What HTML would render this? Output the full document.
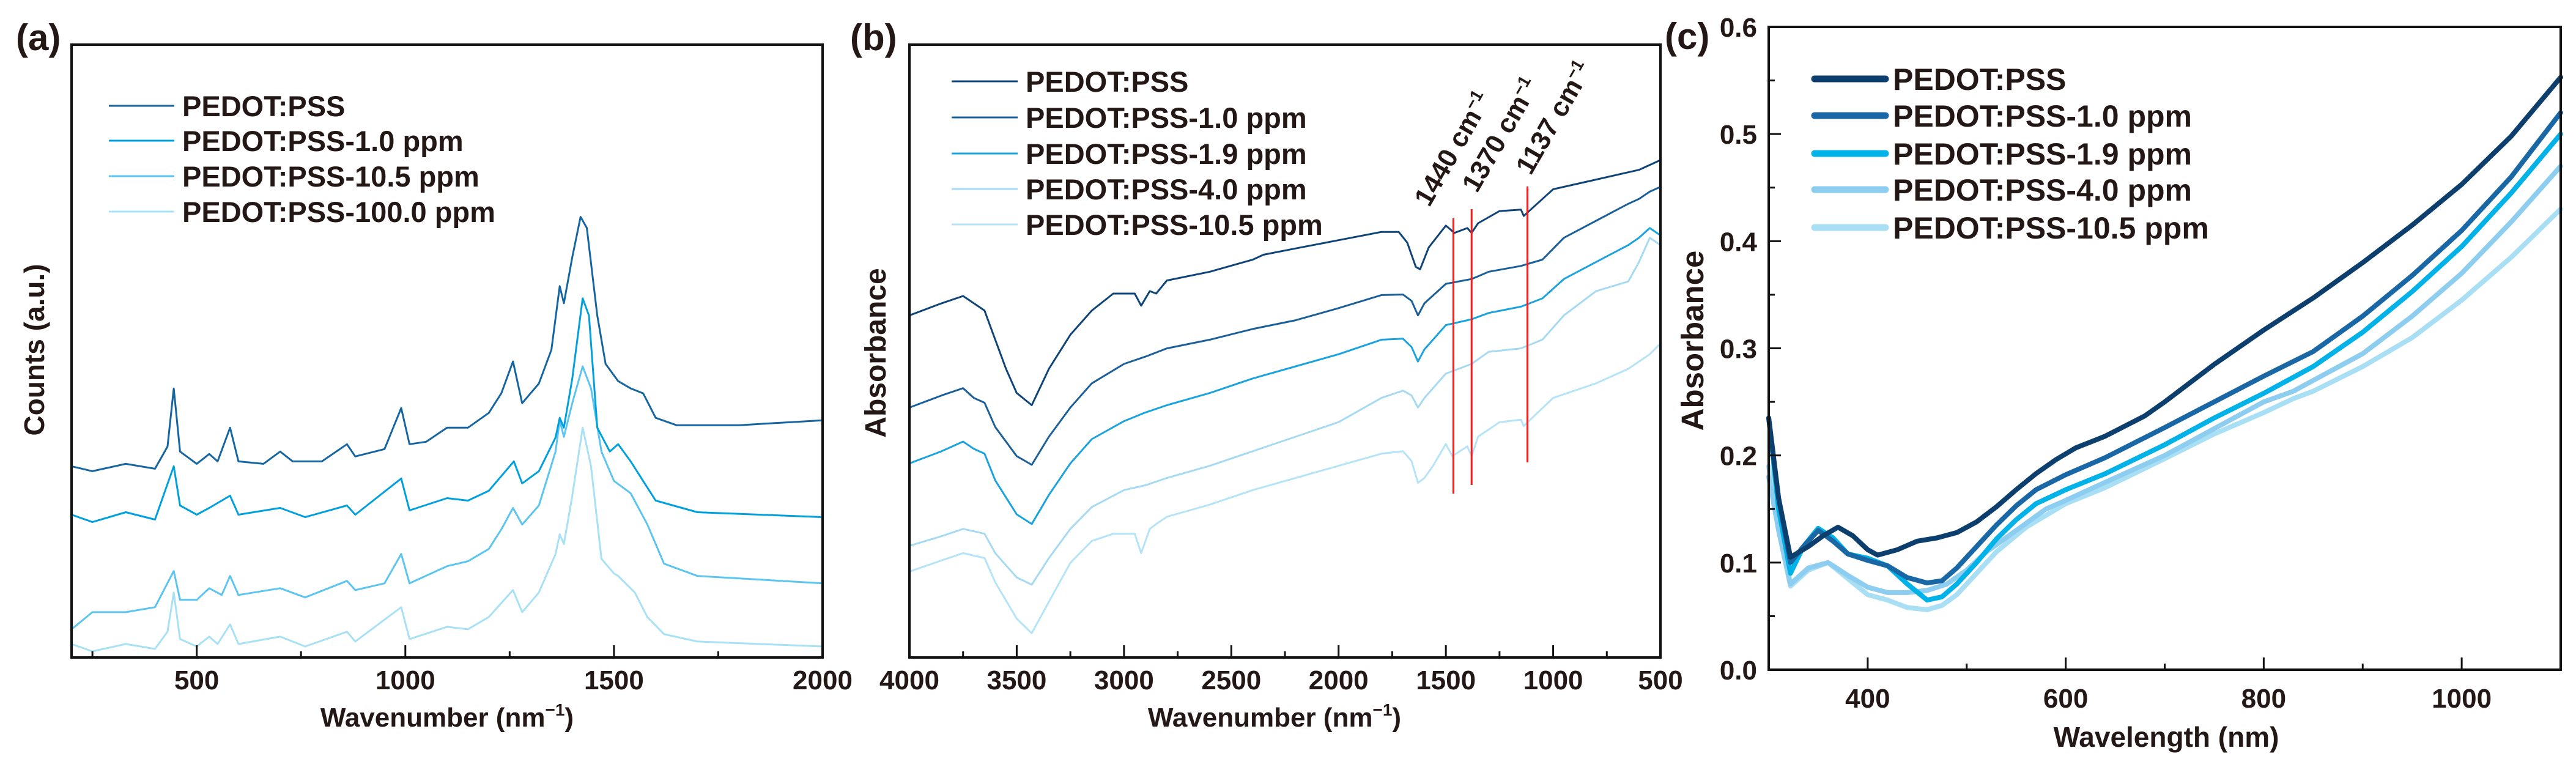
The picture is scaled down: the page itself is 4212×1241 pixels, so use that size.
<!DOCTYPE html>
<html><head><meta charset="utf-8">
<style>
html,body{margin:0;padding:0;background:#fff;}
svg{display:block;}
text{font-family:"Liberation Sans",Arial,sans-serif;font-weight:bold;fill:#231815;}
</style></head>
<body>
<svg id="fig" width="4212" height="1241" viewBox="0 0 4212 1241" xmlns="http://www.w3.org/2000/svg"></svg>
<script>
// ===== Panel (a) Raman data =====
const aX = [200,250,330,400,430,445,460,500,530,550,580,600,660,700,730,800,860,880,950,990,1010,1050,1100,1150,1200,1230,1258,1280,1320,1350,1370,1380,1400,1420,1435,1460,1480,1510,1540,1570,1600,1650,1800,2000];
const aS1 = [31.2,30.4,31.6,30.8,34.4,43.9,33.6,31.6,33.2,32.0,37.5,32.0,31.6,33.6,32.0,32.0,34.8,32.8,34.0,40.7,34.8,35.2,37.5,37.5,39.9,43.1,48.3,41.5,44.7,50.2,60.6,57.8,65.3,71.9,70.1,55.8,47.9,45.1,43.9,43.1,39.1,37.9,37.9,38.7];
const aX2 = [200,250,330,400,445,460,500,530,580,600,700,760,860,880,990,1010,1100,1150,1200,1260,1280,1320,1360,1370,1380,1400,1425,1440,1460,1490,1510,1540,1570,1600,1700,2000];
const aS2 = [23.3,22.1,23.7,22.5,31.2,24.8,23.3,24.4,26.4,23.3,24.4,22.9,24.8,23.3,29.2,24.0,26.0,25.6,27.2,32.0,28.4,30.4,35.9,39.1,37.5,45.5,58.6,55.8,37.5,33.6,34.8,32.0,28.8,25.6,23.7,22.9];
const aX3 = [200,250,330,400,445,460,500,530,560,580,600,700,760,860,880,950,990,1010,1100,1150,1200,1230,1258,1280,1320,1360,1370,1380,1400,1425,1445,1470,1500,1540,1580,1620,1700,2000];
const aS3 = [4.6,7.4,7.4,8.2,14.1,9.4,9.4,11.3,10.2,13.3,10.2,11.3,9.8,12.5,11.0,12.1,16.9,12.1,14.9,15.7,17.7,20.9,24.4,21.7,24.8,33.6,38.7,36.0,41.5,47.5,43.9,33.6,28.8,26.8,21.7,15.3,13.3,12.1];
const aX4 = [200,250,330,400,430,445,460,500,530,550,580,600,700,760,860,880,990,1010,1100,1150,1200,1258,1280,1320,1360,1370,1380,1400,1425,1445,1470,1500,1510,1550,1580,1620,1700,2000];
const aS4 = [2.2,1.0,2.2,1.4,4.2,10.6,3.0,1.8,3.4,2.2,5.4,2.2,3.4,1.8,4.2,2.6,8.2,3.0,5.0,4.6,6.6,11.0,7.4,10.6,16.9,20.1,18.5,26.4,37.5,31.2,16.1,13.7,13.3,10.6,6.6,3.8,2.6,1.8];
const aTicks = [500,1000,1500,2000];
const aLegend = ["PEDOT:PSS","PEDOT:PSS-1.0 ppm","PEDOT:PSS-10.5 ppm","PEDOT:PSS-100.0 ppm"];

// ===== Panel (b) FTIR data (arbitrary absorbance units) =====
const bX1 = [4000,3850,3750,3700,3650,3600,3550,3500,3430,3350,3250,3150,3050,2950,2920,2880,2850,2800,2600,2400,2350,2200,2000,1800,1720,1680,1640,1620,1580,1500,1460,1400,1380,1350,1250,1150,1137,1100,1000,800,600,500];
const bS1 = [705,730,745,730,715,655,595,545,520,595,665,715,750,750,725,755,750,777,795,820,830,843,860,877,877,855,805,800,845,890,875,885,875,895,920,923,910,925,965,985,1005,1025];
const bX = [4000,3850,3750,3700,3650,3600,3500,3430,3350,3250,3150,3000,2900,2800,2600,2400,2200,2000,1800,1700,1660,1630,1600,1500,1380,1300,1150,1050,950,800,650,600,550,500];
const bS2 = [515,540,555,535,525,475,415,397,455,515,565,605,620,637,655,677,695,720,747,748,735,705,730,770,780,795,807,820,865,900,935,945,960,970];
const bS3 = [400,425,445,430,420,365,295,275,335,400,450,487,505,520,545,575,600,625,655,657,640,610,635,685,697,710,723,740,780,815,850,865,885,870];
const bS4 = [230,250,265,260,255,215,165,150,205,265,310,345,355,370,395,425,455,485,535,550,540,515,535,585,605,630,637,655,705,755,775,815,865,850];
const bX5 = [4000,3850,3750,3700,3650,3600,3500,3430,3350,3250,3150,3050,2950,2920,2880,2850,2800,2600,2400,2200,2000,1800,1700,1660,1630,1600,1560,1500,1470,1400,1380,1350,1250,1150,1137,1100,1000,800,650,550,500];
const bS5 = [177,200,215,210,205,155,80,50,115,195,240,255,255,215,265,275,290,315,345,370,395,420,425,405,360,370,395,440,415,435,415,455,485,490,477,493,535,565,595,625,647];
const bTicks = [4000,3500,3000,2500,2000,1500,1000,500];
const bMarks = [1465,1380,1120];
const bMarkLabels = ["1440 cm","1370 cm","1137 cm"];
const bLegend = ["PEDOT:PSS","PEDOT:PSS-1.0 ppm","PEDOT:PSS-1.9 ppm","PEDOT:PSS-4.0 ppm","PEDOT:PSS-10.5 ppm"];

// ===== Panel (c) UV-vis data =====
const cX1 = [300,310,322,340,355,370,385,400,410,430,450,470,490,510,530,550,570,590,610,640,680,700,750,800,850,900,950,1000,1050,1100];
const cS1 = [0.235,0.16,0.105,0.115,0.125,0.133,0.125,0.112,0.107,0.112,0.12,0.123,0.128,0.138,0.152,0.168,0.183,0.196,0.207,0.218,0.237,0.25,0.285,0.317,0.347,0.38,0.415,0.453,0.498,0.553];
const cX = [300,310,322,335,350,365,380,400,420,440,460,475,490,510,530,550,570,600,640,700,750,800,850,900,950,1000,1050,1100];
const cS2 = [0.235,0.16,0.1,0.115,0.13,0.12,0.108,0.102,0.097,0.086,0.081,0.083,0.095,0.115,0.135,0.153,0.168,0.182,0.198,0.226,0.25,0.274,0.297,0.33,0.368,0.41,0.46,0.52];
const cS3 = [0.235,0.15,0.09,0.115,0.132,0.123,0.108,0.104,0.097,0.08,0.065,0.068,0.08,0.1,0.122,0.14,0.155,0.168,0.183,0.21,0.235,0.258,0.283,0.315,0.353,0.395,0.445,0.5];
const cX4 = [300,310,322,340,360,380,400,420,440,460,480,500,520,550,580,600,640,700,750,800,830,850,900,950,1000,1050,1100];
const cS4 = [0.18,0.13,0.08,0.095,0.1,0.088,0.077,0.072,0.072,0.074,0.08,0.093,0.11,0.13,0.15,0.158,0.175,0.2,0.225,0.25,0.26,0.27,0.295,0.33,0.37,0.418,0.47];
const cX5 = [300,310,322,340,360,380,400,420,440,460,475,490,510,530,560,600,640,700,750,800,830,850,900,950,1000,1050,1100];
const cS5 = [0.19,0.13,0.078,0.093,0.1,0.085,0.07,0.065,0.058,0.056,0.06,0.07,0.09,0.11,0.133,0.155,0.17,0.197,0.22,0.24,0.253,0.26,0.283,0.31,0.345,0.385,0.43];
const cXTicks = [400,600,800,1000];
const cYTicks = [0.0,0.1,0.2,0.3,0.4,0.5,0.6];
const cLegend = ["PEDOT:PSS","PEDOT:PSS-1.0 ppm","PEDOT:PSS-1.9 ppm","PEDOT:PSS-4.0 ppm","PEDOT:PSS-10.5 ppm"];

const NS = "http://www.w3.org/2000/svg";
const svg = document.getElementById('fig');
function mk(tag, attrs, parent){
  const e = document.createElementNS(NS, tag);
  for (const k in attrs) e.setAttribute(k, attrs[k]);
  (parent||svg).appendChild(e);
  return e;
}
function scale(d0,d1,r0,r1){ return v => r0 + (v-d0)/(d1-d0)*(r1-r0); }
function lineD(xs, ys, sx, sy){ return xs.map((x,i)=>(i?'L':'M')+sx(x).toFixed(1)+' '+sy(ys[i]).toFixed(1)).join(' '); }
function txt(s, x, y, size, anchor, parent){
  const t = mk('text', {x:x, y:y, 'font-size':size, 'text-anchor':anchor||'start'}, parent);
  t.textContent = s; return t;
}

// ---------- Panel (a) ----------
(function(){
  const L=117,R=1345,T=73,B=1075;
  const sx = scale(200,2000,L,R), sy = scale(0,100,B,T);
  const g = mk('g',{});
  
  
  const cols = ['#1565a0','#00a0dc','#5bc5f0','#a8e0f5'];
  const xs=[aX,aX2,aX3,aX4], ys=[aS1,aS2,aS3,aS4];
  for (let i=3;i>=0;i--){
    const p = mk('path',{d:lineD(xs[i],ys[i],sx,sy),fill:'none',stroke:cols[i],'stroke-width':3,'stroke-linejoin':'round'},g);
    
    
  }
  mk('rect',{x:L,y:T,width:R-L,height:B-T,fill:'none',stroke:'#111','stroke-width':4},g);
  for (let v=250; v<2000; v+=250){
    const major = v%500===0;
    mk('line',{x1:sx(v),x2:sx(v),y1:B,y2:B-(major?20:10),stroke:'#111','stroke-width':3},g);
  }
  aTicks.forEach(v=>{ const t=txt(String(v),sx(v),1127,44,'middle',g);
      });
  const xt = mk('text',{x:731,y:1188,'font-size':44,'text-anchor':'middle'},g);
  xt.innerHTML = 'Wavenumber (nm<tspan dy="-18" font-size="28">−1</tspan><tspan dy="18">)</tspan>';
   
  const yt = txt('Counts (a.u.)',0,0,46,'middle',g);
  yt.setAttribute('transform','translate(72,572) rotate(-90)');
   
  const pl = txt('(a)',26,82,60,'start',g);
   
  const legY=[173,230,288,346];
  aLegend.forEach((s,i)=>{
    const lg = mk('g',{},g);
     
    mk('line',{x1:178,x2:285,y1:legY[i],y2:legY[i],stroke:cols[i],'stroke-width':3},lg);
    txt(s,298,legY[i]+17,47,'start',lg);
  });
})();

// ---------- Panel (b) ----------
(function(){
  const L=1487,R=2715,T=73,B=1075;
  const sx = scale(4000,500,L,R), sy = scale(0,1263,B,T);
  const g = mk('g',{});
  
  
  const cols = ['#0e4477','#1b5f99','#1aa3dd','#a5daf2','#b5e3f7'];
  const xs=[bX1,bX,bX,bX,bX5], ys=[bS1,bS2,bS3,bS4,bS5];
  for (let i=4;i>=0;i--){
    const p = mk('path',{d:lineD(xs[i],ys[i],sx,sy),fill:'none',stroke:cols[i],'stroke-width':3,'stroke-linejoin':'round'},g);
    
    
  }
  const tops=[357,342,305], bots=[807,793,756];
  bMarks.forEach((v,i)=>{
    const l = mk('line',{x1:sx(v),x2:sx(v),y1:tops[i],y2:bots[i],stroke:'#ff1a1a','stroke-width':3},g);
     
  });
  const labPos=[[2337,340],[2415,317],[2503,288]];
  bMarkLabels.forEach((s,i)=>{
    const t = mk('text',{x:0,y:0,'font-size':44,transform:'translate('+labPos[i][0]+','+labPos[i][1]+') rotate(-60)'},g);
    t.innerHTML = s+'<tspan dy="-16" font-size="28">−1</tspan>';
     
  });
  mk('rect',{x:L,y:T,width:R-L,height:B-T,fill:'none',stroke:'#111','stroke-width':4},g);
  for (let v=3750; v>500; v-=250){
    const major = v%500===0;
    mk('line',{x1:sx(v),x2:sx(v),y1:B,y2:B-(major?20:10),stroke:'#111','stroke-width':3},g);
  }
  bTicks.forEach(v=>{ const t=txt(String(v),sx(v),1127,44,'middle',g);
      });
  const xt = mk('text',{x:2084,y:1188,'font-size':44,'text-anchor':'middle'},g);
  xt.innerHTML = 'Wavenumber (nm<tspan dy="-18" font-size="28">−1</tspan><tspan dy="18">)</tspan>';
   
  const yt = txt('Absorbance',0,0,48,'middle',g);
  yt.setAttribute('transform','translate(1448,577) rotate(-90)');
   
  const pl = txt('(b)',1390,82,60,'start',g);
   
  const legY=[133,192,251,309,367];
  bLegend.forEach((s,i)=>{
    const lg = mk('g',{},g);
     
    mk('line',{x1:1556,x2:1664,y1:legY[i],y2:legY[i],stroke:cols[i],'stroke-width':3},lg);
    txt(s,1677,legY[i]+17,47,'start',lg);
  });
})();

// ---------- Panel (c) ----------
(function(){
  const L=2892,R=4187,T=44,B=1095;
  const sx = scale(300,1100,L,R), sy = scale(0,0.6,B,T);
  const g = mk('g',{});
  
  
  const cols = ['#0c3f6d','#1a67a5','#00b2e8','#8dcdef','#a9dff5'];
  const xs=[cX1,cX,cX,cX4,cX5], ys=[cS1,cS2,cS3,cS4,cS5];
  for (let i=4;i>=0;i--){
    const p = mk('path',{d:lineD(xs[i],ys[i],sx,sy),fill:'none',stroke:cols[i],'stroke-width':8,'stroke-linejoin':'round','stroke-linecap':'round'},g);
    
    
  }
  mk('rect',{x:L,y:T,width:R-L,height:B-T,fill:'none',stroke:'#111','stroke-width':4},g);
  for (let v=400; v<1100; v+=100){
    const major = v%200===0;
    mk('line',{x1:sx(v),x2:sx(v),y1:B,y2:B-(major?20:10),stroke:'#111','stroke-width':3},g);
  }
  for (let k=1;k<12;k++){
    const v=k*0.05, major=k%2===0;
    mk('line',{x1:L,x2:L+(major?20:10),y1:sy(v),y2:sy(v),stroke:'#111','stroke-width':3},g);
  }
  cXTicks.forEach(v=>{ const t=txt(String(v),sx(v),1157,44,'middle',g);
      });
  cYTicks.forEach(v=>{ const t=txt(v.toFixed(1),2873,sy(v)+16,44,'end',g);
      });
  const xt = txt('Wavelength (nm)',3542,1221,46,'middle',g);
   
  const yt = txt('Absorbance',0,0,51,'middle',g);
  yt.setAttribute('transform','translate(2785,557) rotate(-90)');
   
  const pl = txt('(c)',2722,80,60,'start',g);
   
  const legY=[129,189,251,310,372];
  cLegend.forEach((s,i)=>{
    const lg = mk('g',{},g);
     
    mk('line',{x1:2967,x2:3083,y1:legY[i],y2:legY[i],stroke:cols[i],'stroke-width':11,'stroke-linecap':'round'},lg);
    txt(s,3095,legY[i]+18,50,'start',lg);
  });
})();
</script>
</body></html>
